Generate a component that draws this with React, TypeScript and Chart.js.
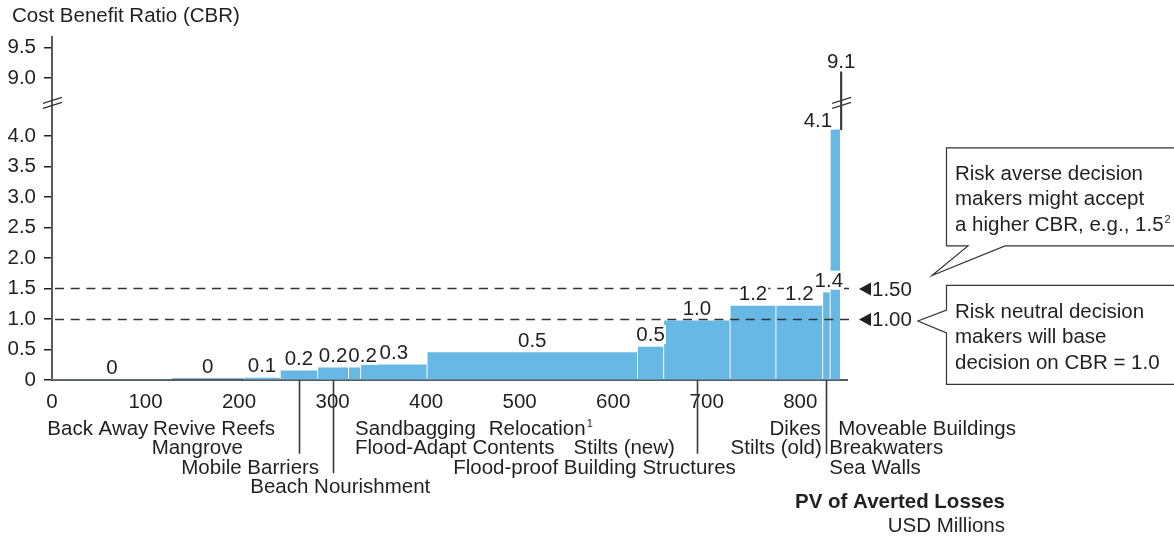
import React, { useEffect, useRef } from "react";
import { Chart, registerables } from "chart.js";

Chart.register(...registerables);

// ---------------- data ----------------
const measures = [
  "Back Away",
  "Revive Reefs",
  "Mangrove",
  "Mobile Barriers",
  "Beach Nourishment",
  "Sandbagging",
  "Flood-Adapt Contents",
  "Relocation¹",
  "Stilts (new)",
  "Flood-proof Building Structures",
  "Dikes",
  "Stilts (old)",
  "Moveable Buildings",
  "Breakwaters",
  "Sea Walls",
];
// PV of averted losses per measure, USD millions (bar widths)
const avertedLosses = [128, 77, 39, 40, 33, 13, 71, 225, 28, 71, 49, 50, 8, 11, 1.5];
// Cost benefit ratio per measure (bar heights)
const cbrValues = [0, 0.02, 0.03, 0.15, 0.2, 0.2, 0.25, 0.45, 0.54, 0.97, 1.21, 1.21, 1.43, 4.1, 9.1];
const cbrLabels = ["0", "0", "0.1", "0.2", "0.2", "0.2", "0.3", "0.5", "0.5", "1.0", "1.2", "1.2", "1.4", "4.1", "9.1"];
const xTickValues = [0, 100, 200, 300, 400, 500, 600, 700, 800];
const yTickValues = [0, 0.5, 1, 1.5, 2, 2.5, 3, 3.5, 4, 9, 9.5];
const thresholdValues = [1.0, 1.5];
const thresholdLabels = ["1.00", "1.50"];
const averseCallout = ["Risk averse decision", "makers might accept", "a higher CBR, e.g., 1.5²"];
const neutralCallout = ["Risk neutral decision", "makers will base", "decision on CBR = 1.0"];
const yAxisTitle = "Cost Benefit Ratio (CBR)";
const xAxisTitle = "PV of Averted Losses";
const xAxisUnit = "USD Millions";

// ---------------- layout / style ----------------
const NAME_ROW = [0, 0, 1, 2, 3, 0, 1, 0, 1, 2, 0, 1, 0, 1, 2];
const NAME_ANCHOR = [-5, 108, 204, 285.6, 212, 324, 324, 467, 666, 429, 822, 823, 840.6, 831, 831];
const NAME_ALIGN = ["left", "left", "right", "right", "left", "left", "left", "left", "right", "left", "right", "right", "left", "left", "left"];
const LEADERS = [
  { bar: 3, row: 2 },
  { bar: 4, row: 3 },
  { bar: 9, row: 2 },
  { bar: 12, row: 2 },
];
const EXTENSION_BAR = 14; // thin line continuing the previous bar across the axis break

const BREAK_LOW = 4.5;
const BREAK_SHIFT = 4.05;
const toDisplay = (v: number) => (v <= BREAK_LOW ? v : Math.max(BREAK_LOW, v - BREAK_SHIFT));

const FONT_SIZE = 20.5;
const FONT_FAMILY = '"Liberation Sans", Arial, Helvetica, sans-serif';
const FONT = `${FONT_SIZE}px ${FONT_FAMILY}`;
const BOLD = `bold ${FONT_SIZE}px ${FONT_FAMILY}`;
const SUP_FONT = `11px ${FONT_FAMILY}`;
const INK = "#231f20";
const AXIS = "#5a5a5c";
const BAR_BLUE = "#67b8e5";
const BAR_DARK = "#2b6891";

const SUPS: Record<string, string> = { "¹": "1", "²": "2", "³": "3" };

// draws text, rendering a trailing superscript character small and raised
function drawText(ctx: CanvasRenderingContext2D, text: string, x: number, y: number, align: CanvasTextAlign) {
  const last = text.charAt(text.length - 1);
  const sup = SUPS[last];
  ctx.font = FONT;
  if (!sup) {
    ctx.textAlign = align;
    ctx.fillText(text, x, y);
    return;
  }
  const base = text.slice(0, -1);
  const wb = ctx.measureText(base).width;
  ctx.font = SUP_FONT;
  const ws = ctx.measureText(sup).width + 1;
  const total = wb + ws;
  const left = align === "right" ? x - total : align === "center" ? x - total / 2 : x;
  ctx.textAlign = "left";
  ctx.font = FONT;
  ctx.fillText(base, left, y);
  ctx.font = SUP_FONT;
  ctx.fillText(sup, left + wb + 1, y - 8);
  ctx.font = FONT;
}

export default function App() {
  const ref = useRef<HTMLCanvasElement>(null);

  useEffect(() => {
    const canvas = ref.current;
    if (!canvas) return;

    const starts: number[] = [];
    let acc = 0;
    avertedLosses.forEach((w) => {
      starts.push(acc);
      acc += w;
    });

    const points = measures.map((_, i) => ({
      x: starts[i] + avertedLosses[i] / 2,
      y:
        i === EXTENSION_BAR
          ? [toDisplay(cbrValues[i - 1]), toDisplay(cbrValues[i])]
          : toDisplay(cbrValues[i]),
    }));
    const colors = measures.map((_, i) => (i === EXTENSION_BAR ? "#333333" : i === 1 ? BAR_DARK : BAR_BLUE));

    const widthPlugin = {
      id: "variableWidth",
      afterDatasetsUpdate(chart: any) {
        const xs = chart.scales.x;
        const meta = chart.getDatasetMeta(0);
        meta.data.forEach((el: any, i: number) => {
          const p0 = xs.getPixelForValue(starts[i]);
          const p1 = xs.getPixelForValue(starts[i] + avertedLosses[i]);
          const gap = i === EXTENSION_BAR ? 0 : 1.6;
          el.x = (p0 + p1) / 2;
          el.width = Math.max(1.2, p1 - p0 - gap);
        });
      },
    };

    const overlayPlugin = {
      id: "overlay",
      afterDatasetsDraw(chart: any) {
        const ctx = chart.ctx as CanvasRenderingContext2D;
        const area = chart.chartArea;
        const xs = chart.scales.x;
        const ys = chart.scales.y;
        ctx.save();

        // threshold dashed lines
        ctx.strokeStyle = "#333";
        ctx.lineWidth = 1.3;
        ctx.setLineDash([9, 6.7]);
        thresholdValues.forEach((t) => {
          const y = Math.round(ys.getPixelForValue(toDisplay(t))) + 0.5;
          ctx.beginPath();
          ctx.moveTo(area.left + 3, y);
          ctx.lineTo(area.right + 6, y);
          ctx.stroke();
        });
        ctx.setLineDash([]);

        // bar value labels
        ctx.font = FONT;
        ctx.textBaseline = "alphabetic";
        const placed: { l: number; r: number; b: number }[] = [];
        const meta = chart.getDatasetMeta(0);
        measures.forEach((_, i) => {
          const el: any = meta.data[i];
          const top = ys.getPixelForValue(toDisplay(cbrValues[i]));
          const text = cbrLabels[i];
          const w = ctx.measureText(text).width;
          let l: number;
          let b: number;
          if (i === EXTENSION_BAR) {
            l = el.x - w / 2;
            b = top - 4;
          } else if (i === EXTENSION_BAR - 1) {
            const ext: any = meta.data[EXTENSION_BAR];
            l = ext.x - 9 - w;
            b = top - 3;
          } else {
            l = el.x - w / 2;
            b = top - 6;
            placed.forEach((p) => {
              if (Math.abs(p.b - b) < 16 && l < p.r && l + w > p.l) l = p.r + 1;
            });
          }
          placed.push({ l, r: l + w, b });
          ctx.fillStyle = "#ffffff";
          ctx.fillRect(l - 1, b - 16, w + 2, 19);
          ctx.fillStyle = INK;
          ctx.textAlign = "left";
          ctx.fillText(text, l, b);
        });

        // axis breaks
        const yb = ys.getPixelForValue(BREAK_LOW);
        const ext: any = meta.data[EXTENSION_BAR];
        ctx.strokeStyle = "#333";
        ctx.lineWidth = 1.2;
        [area.left, ext.x].forEach((cx) => {
          [yb - 5, yb].forEach((cy) => {
            ctx.beginPath();
            ctx.moveTo(cx - 9, cy + 3);
            ctx.lineTo(cx + 10, cy - 3);
            ctx.stroke();
          });
        });

        // category names and leaders
        const rowBase = (r: number) => area.bottom + 55 + r * 19.4;
        ctx.strokeStyle = "#3a3a3a";
        ctx.lineWidth = 1.6;
        LEADERS.forEach(({ bar, row }) => {
          const x = Math.round(meta.data[bar].x) + 0.5;
          ctx.beginPath();
          ctx.moveTo(x, area.bottom);
          ctx.lineTo(x, rowBase(row) - 20);
          ctx.stroke();
        });
        ctx.fillStyle = INK;
        measures.forEach((name, i) => {
          drawText(ctx, name, xs.getPixelForValue(NAME_ANCHOR[i]), rowBase(NAME_ROW[i]), NAME_ALIGN[i] as CanvasTextAlign);
        });

        // threshold markers
        ctx.font = FONT;
        let markerEnd = 0;
        thresholdValues.forEach((t, k) => {
          const y = ys.getPixelForValue(toDisplay(t)) + 0.5;
          const tip = area.right + 12;
          ctx.beginPath();
          ctx.moveTo(tip, y);
          ctx.lineTo(tip + 12, y - 6.5);
          ctx.lineTo(tip + 12, y + 6.5);
          ctx.closePath();
          ctx.fill();
          ctx.textAlign = "left";
          ctx.fillText(thresholdLabels[k], tip + 13, y + 7);
          markerEnd = tip + 13 + ctx.measureText(thresholdLabels[k]).width;
        });

        // callouts
        const boxLeft = area.right + 99;
        const boxRight = chart.width + 10;
        const y15 = ys.getPixelForValue(toDisplay(1.5));
        const y10 = ys.getPixelForValue(toDisplay(1.0));
        ctx.strokeStyle = "#333";
        ctx.lineWidth = 1.2;
        // risk averse box (pointer on bottom edge)
        {
          const top = y15 - 141;
          const bottom = y15 - 43;
          ctx.beginPath();
          ctx.moveTo(boxRight, top + 0.5);
          ctx.lineTo(boxLeft + 0.5, top + 0.5);
          ctx.lineTo(boxLeft + 0.5, bottom + 0.5);
          ctx.lineTo(boxLeft + 22, bottom + 0.5);
          ctx.lineTo(area.right + 85, y15 - 13);
          ctx.lineTo(boxLeft + 59, bottom + 0.5);
          ctx.lineTo(boxRight, bottom + 0.5);
          ctx.fillStyle = "#fff";
          ctx.fill();
          ctx.stroke();
          ctx.fillStyle = INK;
          averseCallout.forEach((line, k) => drawText(ctx, line, boxLeft + 9, top + 32.5 + k * 25.5, "left"));
        }
        // risk neutral box (pointer on left edge)
        {
          const top = y10 - 34;
          const bottom = y10 + 65;
          ctx.beginPath();
          ctx.moveTo(boxRight, top + 0.5);
          ctx.lineTo(boxLeft + 0.5, top + 0.5);
          ctx.lineTo(boxLeft + 0.5, y10 - 9);
          ctx.lineTo(markerEnd + 6, y10 + 2);
          ctx.lineTo(boxLeft + 0.5, y10 + 14);
          ctx.lineTo(boxLeft + 0.5, bottom + 0.5);
          ctx.lineTo(boxRight, bottom + 0.5);
          ctx.fillStyle = "#fff";
          ctx.fill();
          ctx.stroke();
          ctx.fillStyle = INK;
          neutralCallout.forEach((line, k) => drawText(ctx, line, boxLeft + 9, top + 33 + k * 25.5, "left"));
        }

        // titles
        ctx.fillStyle = INK;
        ctx.textAlign = "left";
        ctx.font = FONT;
        ctx.fillText(yAxisTitle, 12, 22);
        ctx.textAlign = "right";
        ctx.font = BOLD;
        ctx.fillText(xAxisTitle, area.right + 158, area.bottom + 128);
        ctx.font = FONT;
        ctx.fillText(xAxisUnit, area.right + 158, area.bottom + 152);

        ctx.restore();
      },
    };

    const chart = new Chart(canvas, {
      type: "bar",
      data: {
        datasets: [
          {
            data: points as any,
            backgroundColor: colors,
            borderWidth: 0,
            categoryPercentage: 1,
            barPercentage: 1,
          },
        ],
      },
      options: {
        responsive: false,
        animation: false,
        devicePixelRatio: 1,
        events: [],
        layout: { padding: { left: 0, right: 327, top: 37, bottom: 118 } },
        plugins: { legend: { display: false }, tooltip: { enabled: false }, title: { display: false } },
        scales: {
          x: {
            type: "linear",
            offset: false,
            min: 0,
            max: 850,
            afterBuildTicks: (scale: any) => {
              scale.ticks = xTickValues.map((v) => ({ value: v }));
            },
            afterFit: (scale: any) => {
              scale.height = 40;
            },
            grid: { display: false, drawTicks: false, offset: false },
            border: { display: true, color: AXIS, width: 2 },
            ticks: {
              autoSkip: false,
              maxRotation: 0,
              padding: 10,
              color: INK,
              font: { family: FONT_FAMILY, size: FONT_SIZE },
              callback: (v: any) => String(v),
            },
          },
          y: {
            type: "linear",
            min: 0,
            max: 5.62,
            afterBuildTicks: (scale: any) => {
              scale.ticks = yTickValues.map((v) => ({ value: toDisplay(v) }));
            },
            afterFit: (scale: any) => {
              scale.width = 52;
            },
            grid: {
              display: true,
              drawOnChartArea: false,
              drawTicks: true,
              tickLength: 8,
              color: INK,
              lineWidth: 1.5,
            },
            border: { display: true, color: AXIS, width: 2 },
            ticks: {
              autoSkip: false,
              padding: 8,
              color: INK,
              font: { family: FONT_FAMILY, size: FONT_SIZE },
              callback: (_v: any, idx: number) => {
                const t = yTickValues[idx];
                return t === 0 ? "0" : t.toFixed(1);
              },
            },
          },
        },
      } as any,
      plugins: [widthPlugin, overlayPlugin],
    });

    return () => chart.destroy();
  }, []);

  return (
    <div style={{ position: "absolute", left: 0, top: 0, width: 1174, height: 538, background: "#ffffff" }}>
      <canvas ref={ref} width={1174} height={538} style={{ display: "block", width: 1174, height: 538 }} />
    </div>
  );
}
